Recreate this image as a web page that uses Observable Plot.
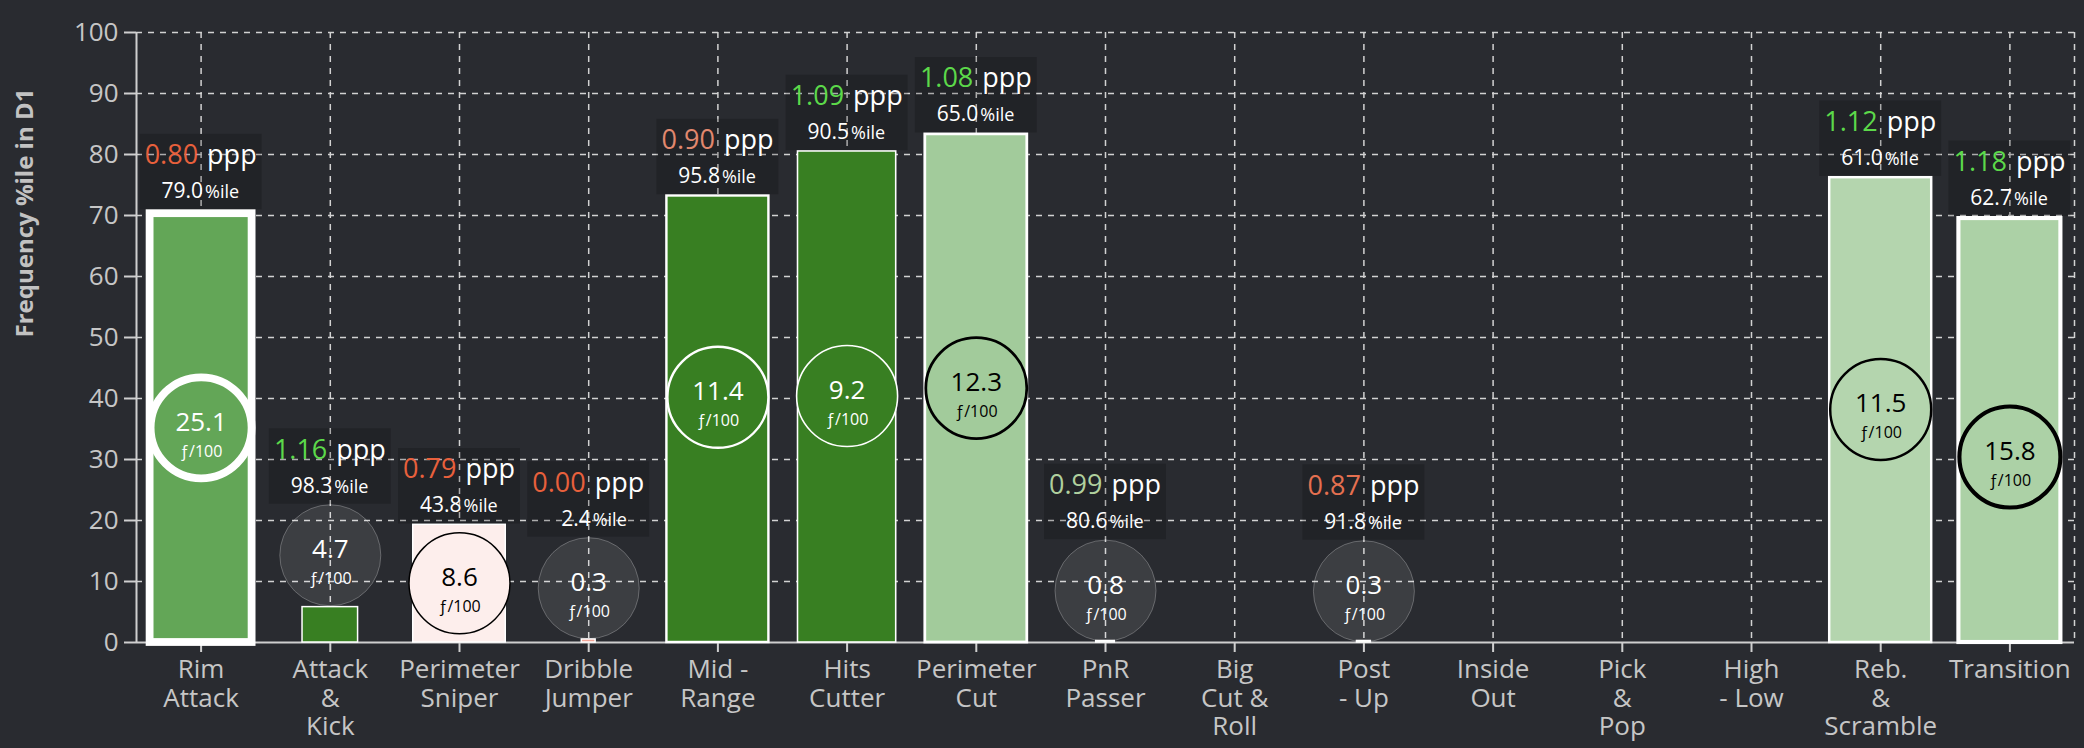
<!DOCTYPE html>
<html>
<head>
<meta charset="utf-8">
<script src="https://cdn.jsdelivr.net/npm/d3@7"></script>
<script src="https://cdn.jsdelivr.net/npm/@observablehq/plot@0.6"></script>
<style>
html, body { margin: 0; padding: 0; background: #292b30; }
#chart svg { display: block; }
</style>
</head>
<body>
<div id="chart"></div>
<script>
// ---- data ----
const categories = [
  "Rim\nAttack", "Attack\n&\nKick", "Perimeter\nSniper", "Dribble\nJumper", "Mid -\nRange",
  "Hits\nCutter", "Perimeter\nCut", "PnR\nPasser", "Big\nCut &\nRoll", "Post\n- Up",
  "Inside\nOut", "Pick\n&\nPop", "High\n- Low", "Reb.\n&\nScramble", "Transition"
];
const freqPercentile = [70.3, 5.8, 19.3, 0.5, 73.2, 80.5, 83.3, 0.25, null, 0.25, null, null, null, 76.2, 69.5];
const freqPer100     = [25.1, 4.7, 8.6, 0.3, 11.4, 9.2, 12.3, 0.8, null, 0.3, null, null, null, 11.5, 15.8];
const pppValues      = [0.80, 1.16, 0.79, 0.00, 0.90, 1.09, 1.08, 0.99, null, 0.87, null, null, null, 1.12, 1.18];
const pppPercentile  = [79.0, 98.3, 43.8, 2.4, 95.8, 90.5, 65.0, 80.6, null, 91.8, null, null, null, 61.0, 62.7];
const circleLevel    = [35.2, 14.3, 9.7, 8.9, 40.2, 40.4, 41.7, 8.5, null, 8.4, null, null, null, 38.2, 30.4];
const yTicks = [0, 10, 20, 30, 40, 50, 60, 70, 80, 90, 100];
const yLabel = "Frequency %ile in D1";
const unitLabel = "ƒ/100";

// ---- layout ----
const W = 2084, H = 748;
const margin = {top: 32, right: 10, bottom: 106, left: 136};
const n = categories.length;
const step = (W - margin.left - margin.right) / n;
const pxPerUnit = (H - margin.top - margin.bottom) / 100;
const R = 50.5;
const boxH = 75.5, boxHalfW = 61;

// ---- visual encodings ----
const barColor = d3.scaleLinear()
  .domain([0, 45, 60, 80, 90, 100])
  .range(["#f0a092", "#fdf0ee", "#b8d8b3", "#5fa352", "#387f22", "#387f22"]).clamp(true);
const pppColor = d3.scaleLinear()
  .domain([0.85, 0.95, 1.0, 1.05])
  .range(["#e8603c", "#d9b0a0", "#a6d89e", "#5cd94a"]).clamp(true);
const barWidth = d3.scaleLinear().domain([0, 9.6]).range([11, 102]).clamp(true);
const strokeW = d3.scaleLinear().domain([9, 16, 25]).range([1.5, 4.2, 7.8]).clamp(true);

const rows = categories.map((c, i) => ({
  i, c, bar: freqPercentile[i], f: freqPer100[i], ppp: pppValues[i], pct: pppPercentile[i], level: circleLevel[i]
})).filter(d => d.bar != null);

rows.forEach(d => {
  d.halfW = barWidth(d.f) / 2 / step;
  d.sw = strokeW(d.f);
  d.inside = d.level + R / pxPerUnit <= d.bar;
  d.dark = !d.inside || d.pct >= 75;
  d.base = d.inside ? d.bar + d.sw / 2 / pxPerUnit : d.level + (R + 0.5) / pxPerUnit;
});

const gridStyle = {stroke: "#d2d2d2", strokeOpacity: 1, strokeWidth: 1.5, strokeDasharray: "6,6"};

const chart = Plot.plot({
  width: W, height: H,
  marginTop: margin.top, marginRight: margin.right, marginBottom: margin.bottom, marginLeft: margin.left,
  x: {type: "linear", domain: [-0.5, n - 0.5], axis: null},
  y: {domain: [0, 100], axis: null},
  color: {type: "identity"},
  style: {background: "#292b30", color: "#c8c8c8", fontFamily: "'Open Sans', sans-serif", fontSize: "26px", overflow: "visible"},
  marks: [
    Plot.gridY(yTicks.filter(t => t > 0), gridStyle),
    Plot.gridX([...d3.range(n), n - 0.5], gridStyle),
    Plot.ruleY([0], {stroke: "#cfcfcf", strokeWidth: 2}),
    Plot.ruleX([-0.5], {y1: 0, y2: 100, stroke: "#cfcfcf", strokeWidth: 2}),
    Plot.axisY({ticks: yTicks, tickSize: 12, tickPadding: 6, label: null, stroke: "#cfcfcf", strokeWidth: 2, fill: "#c6c6c6", fontSize: 26}),
    Plot.axisX({ticks: d3.range(n), tickFormat: i => categories[i], tickSize: 10, tickPadding: 6, label: null,
      stroke: "#cfcfcf", strokeWidth: 2, fill: "#c6c6c6", fontSize: 26, lineHeight: 1.08}),
    // bars
    Plot.rect(rows, {
      x1: d => d.i - d.halfW, x2: d => d.i + d.halfW, y1: 0, y2: "bar",
      fill: d => barColor(d.pct), stroke: "white", strokeWidth: "sw"
    }),
    // circles inside bars
    Plot.dot(rows.filter(d => d.inside), {
      x: "i", y: "level", r: R, fill: d => barColor(d.pct),
      stroke: d => d.dark ? "white" : "black", strokeWidth: "sw"
    }),
    // circles outside bars
    Plot.dot(rows.filter(d => !d.inside), {
      x: "i", y: "level", r: R, fill: "white", fillOpacity: 0.09, stroke: "white", strokeOpacity: 0.25, strokeWidth: 1
    }),
    Plot.text(rows, {x: "i", y: "level", text: d => d.f.toFixed(1), fontSize: 26, lineAnchor: "bottom", dy: 3,
      fill: d => d.dark ? "white" : "black"}),
    Plot.text(rows, {x: "i", y: "level", text: d => unitLabel, fontSize: 16, lineAnchor: "bottom", dy: 29,
      fill: d => d.dark ? "white" : "black"}),
    // label boxes
    Plot.rect(rows, {
      x1: d => d.i - boxHalfW / step, x2: d => d.i + boxHalfW / step,
      y1: "base", y2: d => d.base + boxH / pxPerUnit, fill: "black", fillOpacity: 0.18
    }),
    Plot.text(rows, {x: "i", y: "base", text: d => d.ppp.toFixed(2), textAnchor: "end", lineAnchor: "bottom",
      dx: -3, dy: -45.7, fontSize: 27, fill: d => pppColor(d.ppp)}),
    Plot.text(rows, {x: "i", y: "base", text: d => "ppp", textAnchor: "start", lineAnchor: "bottom",
      dx: 6, dy: -45.7, fontSize: 27, fill: "white"}),
    Plot.text(rows, {x: "i", y: "base", text: d => d.pct.toFixed(1), textAnchor: "end", lineAnchor: "bottom",
      dx: 2, dy: -11.7, fontSize: 21, fill: "white"}),
    Plot.text(rows, {x: "i", y: "base", text: d => "%ile", textAnchor: "start", lineAnchor: "bottom",
      dx: 4, dy: -11.7, fontSize: 18, fill: "white"}),
    // y-axis title
    Plot.text([yLabel], {frameAnchor: "left", dx: -111, rotate: -90, fontSize: 24, fontWeight: "bold", fill: "#c2c2c2"})
  ]
});
document.getElementById("chart").appendChild(chart);
</script>
</body>
</html>
